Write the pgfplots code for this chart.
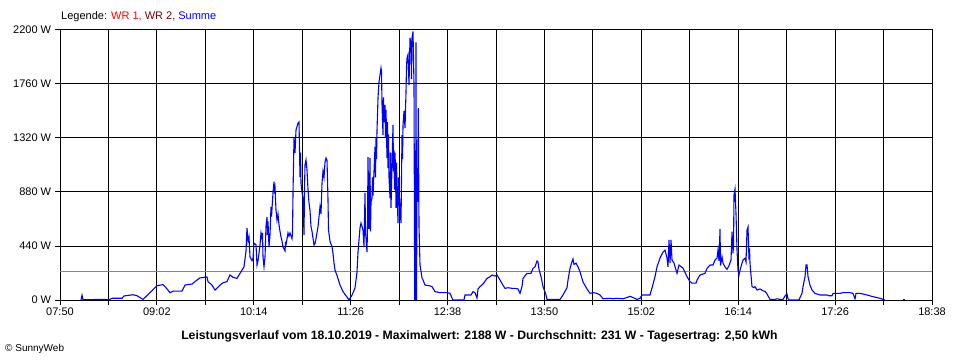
\documentclass[border=0pt]{standalone}
\usepackage{pgfplots}
\pgfplotsset{compat=1.18}
\usepackage{fontspec}
\setmainfont{Liberation Sans}
\definecolor{curveblue}{RGB}{0,0,255}
\definecolor{wrone}{RGB}{255,0,0}
\definecolor{wrtwo}{RGB}{128,0,0}
\definecolor{avggray}{RGB}{136,136,136}
\pgfplotstableread{
x y
81 0
82 40
83 3
90 3
100 5
110 5
112 14
122 14
124 33
133 43
137 35
143 5
150 60
157 117
163 125
166 100
170 60
173 72
182 73
185 122
192 130
197 163
200 180
207 188
208 150
212 122
215 81
220 122
223 140
227 150
230 204
233 185
237 176
240 217
242 244
244 270
246 400
247 587
248 480
249 514
250 350
252 320
253 340
254 464
256 450
257 285
258 320
259 380
260 450
261 546
262 500
262.5 546
263 350
264 270
265 350
266 600
267 676
267.5 530
268 640
269 432
270 530
271 758
271.5 680
273 872
274 964
274.5 900
275 920
276 733
277 650
278 700
279 611
280 560
281 514
282 480
283 432
285 400
285.5 460
286 450
288 546
289 520
290 546
292 500
292.5 546
293 872
294 1320
295 1200
296 1385
298 1440
299 1450
300 1002
300.5 1200
301 950
302 880
303 831
304 530
304.5 900
305 1100
306 1141
307 1060
308 900
309 790
310 730
311 597
312 560
314 448
315 460
316 500
318 597
320 760
321 700
322 953
323 1050
324 1000
325 1124
326 1157
327 1140
328 815
328.5 570
330 480
332 432
333 380
334 300
335 244
337 200
340 122
343 68
347 24
349 0
352 40
355 98
357 228
358 391
360 587
361 627
362 600
363 570
364 432
365 872
365.5 560
367 391
367.5 600
368 1165
369 580
370 1157
370.5 560
371 800
372 831
372.5 1000
373 850
374 1050
375 1247
375.5 1000
376 1320
376.5 1150
377 1380
378 1646
379 1776
380 1833
381 1890
381.5 1860
382 1600
383 1344
383.5 1650
384 1450
385 1589
385.5 1330
386 1550
387 1157
387.5 1450
388 1075
388.5 1350
389 1000
390 831
390.5 1200
391 750
392 1100
393 1426
393.5 1050
394 1220
394.5 900
395 1200
395.5 1050
396 750
396.5 1120
397 900
398 627
398.5 1000
399 880
400 750
401 627
402 1344
402.5 1150
403 1420
404 1540
405 1400
406 1695
406.5 1900
407 1972
408 2000
409 1752
410 2135
411 2080
411.5 1800
412 2135
413 2188
414 1752
414.7 0
415.5 0
416 2100
416.5 0
417 961
417.5 800
418.3 1564
419 600
420 285
422 179
423 163
425 122
430 115
432 109
435 68
440 60
447 60
450 55
452 16
453 0
464 0
465 41
471 41
473 68
475 60
477 16
478 90
480 109
483 130
487 176
490 190
492 204
495 195
497 204
500 163
503 120
505 95
508 100
512 95
515 95
518 90
520 54
522 110
523 176
527 217
531 217
533 258
535 270
537 318
538 310
539 250
541 190
543 109
546 41
547 5
560 5
563 41
567 100
568 163
570 258
572 312
573 334
574 290
576 300
578 270
580 230
583 147
587 90
590 54
593 60
597 54
600 41
603 10
610 14
613 10
617 14
623 10
627 20
630 30
633 20
637 5
640 14
642 41
650 41
652 98
655 190
657 270
660 342
663 391
665 407
667 342
668 270
669 489
670 300
671 489
672 326
674 300
677 217
679 285
683 260
687 190
690 150
692 138
696 138
697 163
700 204
705 217
707 258
710 285
713 285
715 326
717 340
718 407
719 320
720 577
720.5 280
722 353
723 300
725 270
727 250
729 280
731 326
732 556
733 380
733.5 450
734 855
735 904
736 700
737 407
738 244
739 204
740 244
742 300
743 326
745 340
746 310
747 570
748 595
749 330
749.5 420
750 300
751 200
752 109
754 100
755 109
757 81
760 90
763 75
765 70
767 50
768 33
770 5
775 5
777 10
780 5
783 5
785 33
787 49
788 10
789 0
799 0
800 20
802 54
803 109
805 190
806 285
807 285
808 190
810 120
812 81
815 54
820 41
827 41
829 35
832 35
833 54
840 54
843 60
850 60
853 54
855 10
856 54
860 54
867 41
873 27
880 14
883 5
885 0
}\summe
\begin{document}
\fontsize{11bp}{13bp}\selectfont
\begin{tikzpicture}[x=1bp,y=1bp]
\path[use as bounding box] (0,0) rectangle (960,360);
\begin{axis}[at={(60bp,60bp)}, anchor=south west, scale only axis,
  width=872bp, height=270bp,
  xmin=60, xmax=932, ymin=0, ymax=2200,
  xtick={60,108.444,156.889,205.333,253.778,302.222,350.667,399.111,447.556,496,544.444,592.889,641.333,689.778,738.222,786.667,835.111,883.556,932},
  xticklabels={07:50,,09:02,,10:14,,11:26,,12:38,,13:50,,15:02,,16:14,,17:26,,18:38},
  ytick={0,440,880,1320,1760,2200},
  yticklabels={0 W,440 W,880 W,1320 W,1760 W,2200 W},
  grid=major, major grid style={black, line width=1bp},
  axis line style={black, line width=1bp},
  tick align=outside, major tick length=5bp,
  tick style={black, line width=1bp},
  tick pos=left,
  ticklabel style={font=\fontsize{11bp}{13bp}\selectfont},
  xticklabel style={yshift=1bp},
]
\addplot[avggray, line width=1bp, forget plot] coordinates {(60,231) (932,231)};
\addplot[curveblue, line width=1.1bp, line join=miter] table[x=x,y=y] {\summe};
\addplot[curveblue, line width=1.1bp] coordinates {(903,5) (905,5)};
\end{axis}
\node[anchor=west, inner sep=0pt] at (61,343.3) {Legende: \textcolor{wrone}{WR 1,} \textcolor{wrtwo}{WR 2,} \textcolor{curveblue}{Summe}};
\node[inner sep=0pt, font=\bfseries\fontsize{12.2bp}{14bp}\selectfont] at (479.5,23.3) {Leistungsverlauf vom 18.10.2019 - Maximalwert: 2188 W - Durchschnitt: 231 W - Tagesertrag: 2,50 kWh};
\node[anchor=west, inner sep=0pt, font=\fontsize{10bp}{12bp}\selectfont] at (5,11) {\textcopyright{} SunnyWeb};
\end{tikzpicture}
\end{document}
